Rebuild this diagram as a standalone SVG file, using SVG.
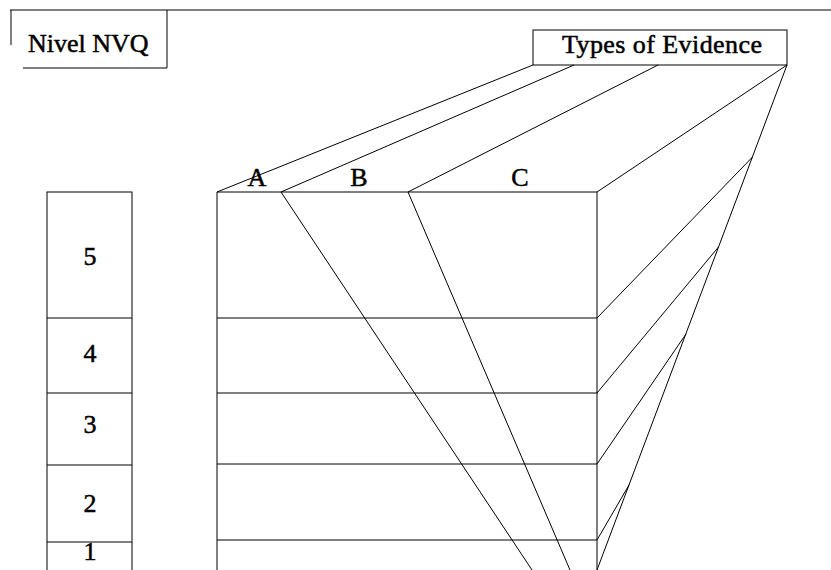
<svg xmlns="http://www.w3.org/2000/svg" width="831" height="570" viewBox="0 0 831 570">
<style>
.l{stroke:#000;stroke-width:1;fill:none}
.t{font-family:"Liberation Serif","Times New Roman",serif;font-size:26px;fill:#000;stroke:#000;stroke-width:0.5}
.c{text-anchor:middle}
</style>
<rect width="831" height="570" fill="#fff"/>
<g id="frame">
<line class="l" x1="10" y1="10" x2="831" y2="10"/>
</g>
<g id="nivel-nvq">
<line class="l" x1="11" y1="10" x2="11" y2="45"/>
<line class="l" x1="167" y1="10" x2="167" y2="68"/>
<line class="l" x1="23" y1="68" x2="167" y2="68"/>
<text class="t" x="28" y="52">Nivel NVQ</text>
</g>
<g id="types-of-evidence">
<rect class="l" x="533" y="30" width="254" height="35"/>
<text class="t" x="562" y="53" textLength="200" lengthAdjust="spacing">Types of Evidence</text>
</g>
<g id="levels">
<rect class="l" x="47" y="192" width="85" height="390"/>
<line class="l" x1="47" y1="318" x2="132" y2="318"/>
<line class="l" x1="47" y1="393" x2="132" y2="393"/>
<line class="l" x1="47" y1="465" x2="132" y2="465"/>
<line class="l" x1="47" y1="542" x2="132" y2="542"/>
<text class="t c" x="90" y="265">5</text>
<text class="t c" x="90" y="362">4</text>
<text class="t c" x="90" y="433">3</text>
<text class="t c" x="90" y="512">2</text>
<text class="t c" x="90" y="560">1</text>
</g>
<g id="evidence-block">
<line class="l" x1="217" y1="192" x2="597" y2="192"/>
<line class="l" x1="217" y1="192" x2="217" y2="580"/>
<line class="l" x1="597" y1="192" x2="597" y2="580"/>
<line class="l" x1="217" y1="318" x2="597" y2="318"/>
<line class="l" x1="217" y1="393" x2="597" y2="393"/>
<line class="l" x1="217" y1="464" x2="597" y2="464"/>
<line class="l" x1="217" y1="540" x2="597" y2="540"/>
<text class="t c" x="257" y="186">A</text>
<text class="t c" x="359" y="186">B</text>
<text class="t c" x="520" y="186">C</text>
</g>
<g id="connectors">
<line class="l" x1="533" y1="65" x2="217" y2="192"/>
<line class="l" x1="574" y1="65" x2="281" y2="192"/>
<line class="l" x1="658" y1="65" x2="408" y2="192"/>
<line class="l" x1="787" y1="65" x2="597" y2="192"/>
<line class="l" x1="787" y1="65" x2="597" y2="570"/>
<line class="l" x1="281" y1="192" x2="532" y2="570"/>
<line class="l" x1="408" y1="192" x2="570" y2="570"/>
<line class="l" x1="597" y1="318" x2="752.5" y2="157"/>
<line class="l" x1="597" y1="393" x2="718.5" y2="247"/>
<line class="l" x1="597" y1="464" x2="686" y2="334"/>
<line class="l" x1="597" y1="540" x2="629" y2="485"/>
</g>
</svg>
